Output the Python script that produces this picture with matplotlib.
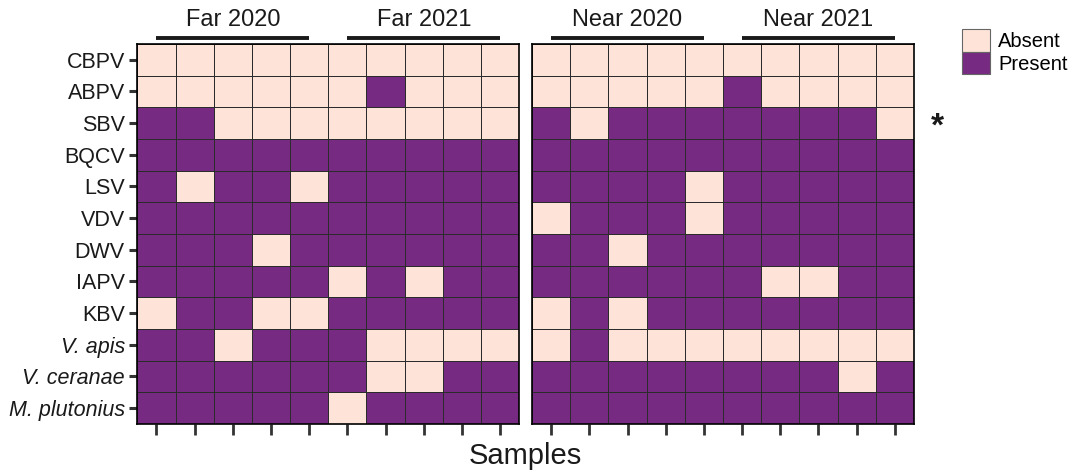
import numpy as np
import matplotlib
matplotlib.use("Agg")
import matplotlib.pyplot as plt
from matplotlib.colors import ListedColormap
from matplotlib.patches import Patch

plt.rcParams['font.family'] = ['Liberation Sans', 'DejaVu Sans']

pathogens = ["CBPV", "ABPV", "SBV", "BQCV", "LSV", "VDV", "DWV", "IAPV", "KBV",
             "V. apis", "V. ceranae", "M. plutonius"]
italic_rows = ["V. apis", "V. ceranae", "M. plutonius"]
groups = [["Far 2020", "Far 2021"], ["Near 2020", "Near 2021"]]
legend_labels = ["Absent", "Present"]

# 1 = present, 0 = absent; 10 samples per site
far = [
    "0000000000",
    "0000001000",
    "1100000000",
    "1111111111",
    "1011011111",
    "1111111111",
    "1110111111",
    "1111101011",
    "0110011111",
    "1101110000",
    "1111110011",
    "1111101111",
]
near = [
    "0000000000",
    "0000010000",
    "1011111110",
    "1111111111",
    "1111011111",
    "0111011111",
    "1101111111",
    "1111110011",
    "0101111111",
    "0100000000",
    "1111111101",
    "1111111111",
]
starred_row = "SBV"

col_absent = "#FEE4D8"
col_present = "#772A82"
cmap = ListedColormap([col_absent, col_present])

fig = plt.figure(figsize=(10.72, 4.73), dpi=100)
ax1 = fig.add_axes([0.1281, 0.1036, 0.3563, 0.8034])
ax2 = fig.add_axes([0.4963, 0.1036, 0.3563, 0.8034])

for ax, rows, grp in [(ax1, far, groups[0]), (ax2, near, groups[1])]:
    mat = np.array([[int(c) for c in r] for r in rows])
    nrow, ncol = mat.shape
    ax.pcolormesh(np.arange(ncol + 1), np.arange(nrow + 1), mat, cmap=cmap,
                  vmin=0, vmax=1, edgecolors="#2b2b2b", linewidth=0.6)
    ax.set_xlim(0, ncol)
    ax.set_ylim(nrow, 0)
    ax.set_xticks(np.arange(ncol) + 0.5)
    ax.set_xticklabels([])
    ax.tick_params(axis="x", length=8, width=2, color="#333333")
    for s in ax.spines.values():
        s.set_color("black")
        s.set_linewidth(1.2)
    # group bars and titles above each half
    half = ncol // 2
    for g, name in enumerate(grp):
        x0 = g * half + 0.5
        x1 = g * half + half - 0.5
        ax.plot([x0, x1], [-0.2, -0.2], color="#1a1a1a", lw=2.8,
                solid_capstyle="butt", clip_on=False)
        ax.text((x0 + x1) / 2, -0.4, name, ha="center", va="bottom",
                fontsize=17, color="#1a1a1a")

ax1.set_yticks(np.arange(len(pathogens)) + 0.5)
ax1.set_yticklabels(pathogens, fontsize=15.5, color="#1a1a1a")
for lab in ax1.get_yticklabels():
    if lab.get_text() in italic_rows:
        lab.set_style("italic")
ax1.tick_params(axis="y", length=6, width=2.2, color="#333333", pad=3)
ax2.set_yticks([])

ax2.text(10.45, pathogens.index(starred_row) + 0.62, "*", ha="left", va="center",
         fontsize=24, fontweight="bold", color="#1a1a1a")

fig.text(0.49, 0.035, "Samples", ha="center", va="center", fontsize=21,
         color="#1a1a1a")

handles = [Patch(facecolor=col_absent, edgecolor="#666666", lw=0.8),
           Patch(facecolor=col_present, edgecolor="#666666", lw=0.8)]
fig.legend(handles, legend_labels, loc="upper left",
           bbox_to_anchor=(962 / 1072, 1 - 29 / 473), frameon=False,
           fontsize=14.5, handlelength=1.4, handleheight=1.35, labelspacing=0,
           handletextpad=0.4, borderpad=0, borderaxespad=0)

fig.savefig("out.png", dpi=100)
